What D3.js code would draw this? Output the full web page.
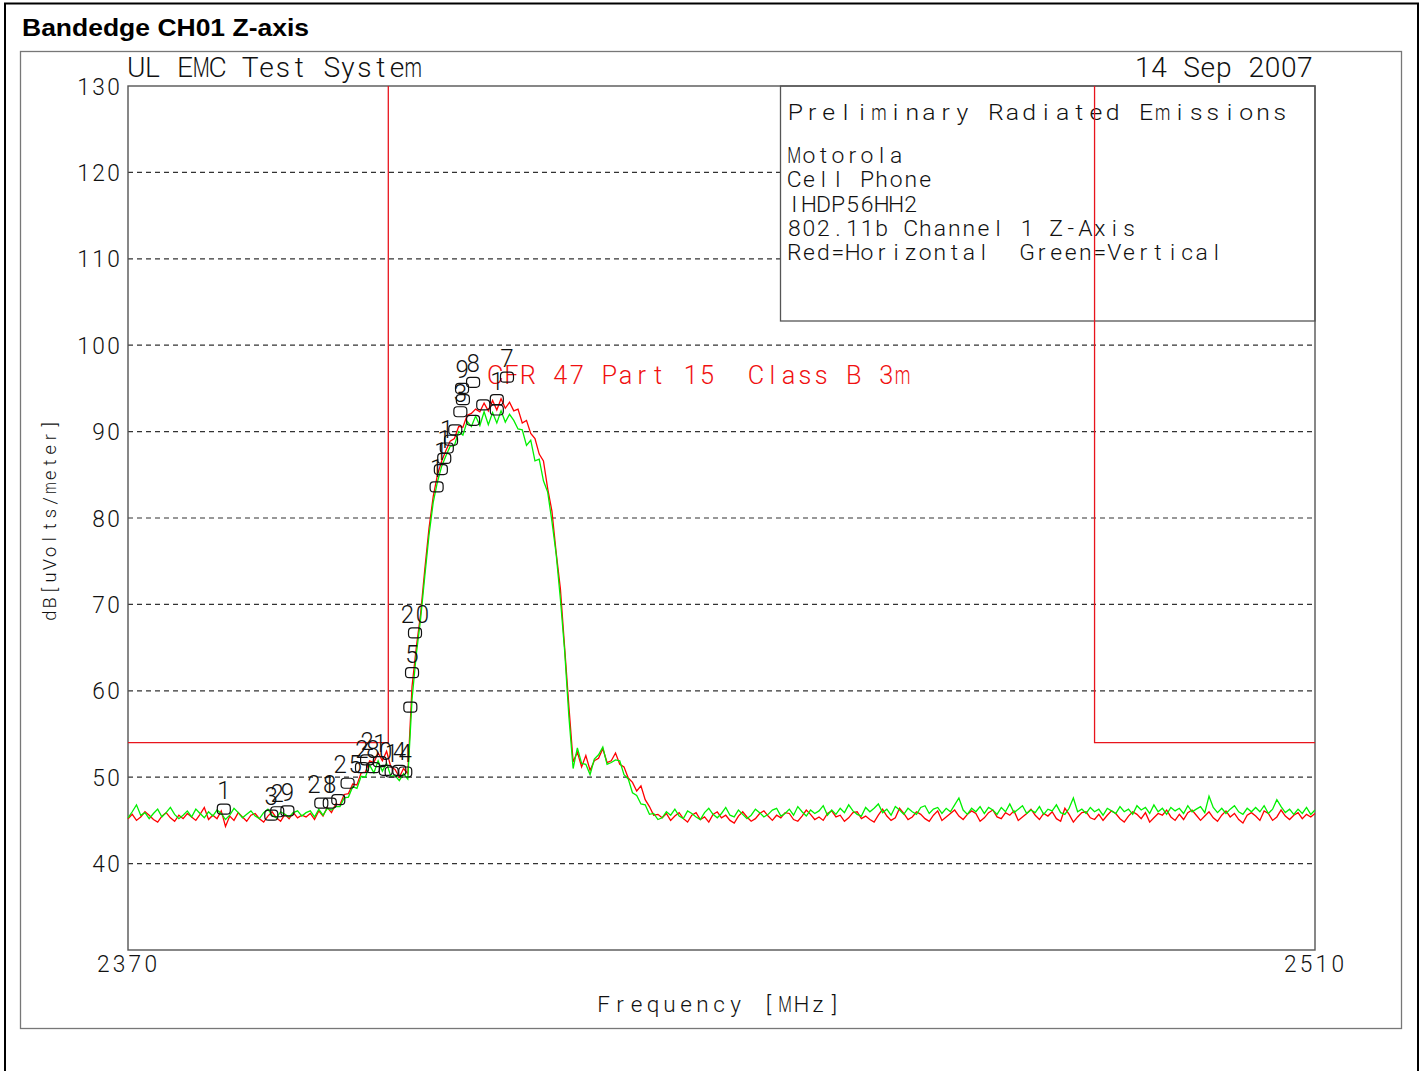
<!DOCTYPE html>
<html>
<head>
<meta charset="utf-8">
<script src="https://cdn.jsdelivr.net/npm/d3@7"></script>
<style>
  body { margin: 0; background: #fff; }
  .hp { font-family: Roboto, "DejaVu Sans", sans-serif; font-weight: 300; }
</style>
</head>
<body>
<div id="chart"></div>
<script>
// sweep: 2370 .. 2510 MHz, one reading every 0.5 MHz
var freqStart = 2370;
var freqStep = 0.5;

// Red = Horizontal (dBuV/m)
var redTrace = [
  45.2, 45.7, 45.0, 45.4, 46.0, 45.6, 45.1, 44.8, 45.5, 45.9,
  45.3, 44.9, 45.6, 45.2, 45.8, 45.4, 45.0, 45.7, 46.5, 45.1,
  45.6, 45.2, 46.1, 44.3, 45.5, 45.0, 45.9, 45.4, 44.9, 45.6,
  45.8, 45.2, 44.8, 45.5, 46.0, 45.3, 44.9, 45.7, 45.2, 45.9,
  45.3, 45.6, 45.4,
  45.8, 45.1, 46.1, 45.5, 46.5, 45.9, 46.9, 46.8, 48.0, 48.1,
  49.2, 49.1, 50.5, 50.6, 51.9, 51.7, 52.8, 51.9, 53.0, 51.2,
  50.9, 50.0, 51.0, 50.4,
  60.5, 65.0, 68.8, 74.0, 78.8, 82.5, 85.0, 86.6, 87.8, 88.9,
  89.2, 90.6, 90.5, 91.9, 92.1, 92.6, 92.3, 93.3, 92.4, 93.6,
  92.5, 93.8, 92.7, 93.4, 92.4, 92.6, 91.0, 91.3, 89.8, 89.2,
  87.4, 86.6, 83.4, 80.8, 76.0, 71.8, 65.0, 58.2, 51.8,
  52.9, 51.2, 52.5, 50.8, 51.9, 52.2, 53.3, 51.7, 51.9, 52.8,
  51.5, 51.2, 49.9, 49.4, 48.4, 49.0, 47.4, 46.6, 45.6, 45.7,
  45.3, 45.8, 45.0, 45.5, 45.9, 45.2, 44.8, 45.6, 45.9, 45.1,
  45.4, 44.8, 45.7, 46.0, 45.3, 45.6, 45.0, 44.7, 45.5, 46.0,
  45.4, 44.9, 45.2, 45.8, 46.1, 45.5, 45.0, 45.6, 45.3, 45.9,
  45.8, 45.1, 44.9, 45.5, 46.2, 45.7, 45.1, 45.4, 45.0, 45.8,
  46.1, 45.4, 45.6, 44.9, 45.3, 45.9, 46.0, 45.2, 45.5, 45.1,
  44.8, 45.6, 46.3, 45.5, 45.0, 45.3, 46.4, 45.8, 45.1, 45.4,
  46.0, 45.7, 45.2, 44.9, 45.6, 46.1, 45.0, 45.4, 45.8, 46.2,
  45.5, 45.1, 45.7, 46.1, 45.8, 44.9, 45.3, 45.9, 46.2, 45.4,
  45.2, 45.9, 45.6, 46.1, 45.0, 45.4, 45.8, 46.3, 45.6, 45.1,
  45.8, 45.5, 46.0, 45.2, 44.9, 46.4, 45.7, 44.8, 45.4, 45.9,
  46.0, 45.3, 45.1, 45.7, 45.0, 45.6, 46.1, 45.8, 45.2, 44.8,
  45.5, 46.0, 45.7, 45.2, 45.9, 44.8, 45.3, 45.8, 45.6, 46.2,
  45.4, 45.0, 45.7, 45.1, 45.9, 46.2, 45.6, 45.0, 45.5, 46.0,
  45.3, 44.9, 45.6, 46.1, 45.4, 45.8, 45.1, 44.7, 45.6, 45.9,
  45.5, 45.0, 46.1, 45.8, 45.0, 45.4, 46.2, 45.5, 45.1, 45.6,
  45.9, 45.2, 45.7, 45.4, 45.8
];

// Green = Vertical (dBuV/m)
var greenTrace = [
  45.3, 46.0, 46.8, 45.6, 45.9, 45.2, 45.8, 46.3, 45.4, 45.9,
  46.5, 45.7, 45.2, 45.6, 46.1, 45.4, 46.3, 45.8, 45.3, 46.0,
  45.5, 46.2, 45.8, 45.1, 45.6, 46.4, 45.9, 45.3, 45.7, 46.1,
  45.5, 45.2, 45.9, 46.3, 45.6, 45.3, 46.0, 45.7, 45.4, 45.9,
  46.1, 45.5, 45.9,
  46.1, 45.4, 46.3, 45.6, 46.4, 46.2, 46.6, 46.6, 47.6, 47.7,
  48.9, 48.7, 50.1, 50.0, 51.4, 50.5, 51.9, 50.7, 51.6, 50.1,
  50.2, 49.6, 50.4, 49.8,
  59.0, 64.2, 68.2, 73.2, 78.0, 81.8, 84.2, 86.0, 87.2, 88.3,
  88.4, 90.0, 89.6, 91.2, 90.6, 91.8, 90.7, 92.3, 90.8, 92.2,
  91.0, 92.4, 91.1, 92.0, 91.3, 90.3, 90.2, 88.4, 89.0, 86.6,
  86.8, 84.3, 83.0, 79.6, 75.8, 70.6, 64.6, 57.0, 51.0,
  53.4, 51.6, 51.5, 50.3, 52.1, 52.6, 53.5, 51.5, 51.7, 52.0,
  51.9, 50.3, 49.8, 48.2, 47.9, 46.9, 46.8, 45.7, 45.8, 45.1,
  45.3, 46.0, 45.6, 46.3, 45.5, 45.2, 46.1, 45.8, 45.4, 45.1,
  45.9, 46.4, 45.7, 45.3, 45.8, 46.5, 45.6, 45.4, 46.2, 45.7,
  45.2, 45.6, 46.3, 45.9, 45.4, 45.7, 46.2, 46.4, 45.5, 45.8,
  46.3, 45.6, 46.6, 46.0, 45.5, 46.2, 45.8, 46.1, 46.7, 45.6,
  46.2, 45.7, 46.4, 45.9, 46.8, 46.1, 45.7, 45.5, 46.5, 46.0,
  46.4, 46.9, 45.9, 46.3, 45.6, 46.6, 46.2, 45.7, 46.4, 46.0,
  45.7, 46.5, 46.7, 45.8, 46.3, 46.5, 45.8, 46.4, 46.0, 46.8,
  47.6, 46.2, 45.7, 46.4, 46.0, 46.6, 45.8, 46.5, 46.2, 45.7,
  46.5, 46.0, 46.9, 45.9, 46.3, 46.7, 45.8, 46.2, 45.9, 46.6,
  45.7, 46.3, 46.1, 46.8, 45.9, 45.7, 46.4, 47.6, 46.0, 46.3,
  45.8, 46.5, 46.0, 46.3, 45.6, 46.4, 46.1, 45.8, 46.6, 46.0,
  46.3, 45.7, 46.7, 46.2, 46.5, 45.8, 46.8, 46.0, 46.4, 45.7,
  46.5, 46.1, 46.4, 45.8, 46.7, 46.0, 46.3, 46.6, 45.9, 47.8,
  46.5, 45.9, 46.4, 45.8, 46.3, 46.7, 46.0, 45.7, 46.4, 46.0,
  46.5, 46.0, 46.7, 45.8, 46.3, 47.4, 46.6, 45.9, 46.3, 45.7,
  46.3, 45.8, 46.5, 45.7, 46.2
];

// CFR 47 Part 15 Class B 3m limit, two pieces
var limitLeft = [[2370, 54], [2400.7, 54], [2400.7, 130]];
var limitRight = [[2484, 130], [2484, 54], [2510, 54]];

// peak markers
var markerFreq = [2381.3, 2386.9, 2387.6, 2388.8, 2392.8, 2393.8, 2394.8, 2395.9,
  2397.6, 2398.2, 2398.9, 2399.7, 2400.4, 2401.1, 2402.0, 2402.7,
  2403.3, 2403.5, 2403.85, 2406.4, 2406.9, 2407.3, 2407.6, 2408.1, 2408.6,
  2409.2, 2409.5, 2409.4, 2410.7, 2410.7, 2411.9, 2413.5, 2413.5, 2414.7];
var markerDb = [46.3, 45.6, 46.0, 46.1, 47.0, 47.0, 47.4, 49.3,
  51.1, 52.0, 51.1, 51.8, 50.8, 50.6, 50.8, 50.6,
  58.1, 62.1, 66.7, 83.6, 85.6, 86.9, 88.1, 89.0, 90.2,
  92.3, 93.7, 95.0, 95.7, 91.3, 93.1, 93.7, 92.5, 96.3];
var markerLabel = ["1", "3", "2", "9", "21", "8", "", "25",
  "2", "2", "8", "1", "0", "1", "4", "4",
  "", "5", "20", "1", "1", "1", "1", "", "",
  "3", "", "9", "8", "", "", "1", "", "7"];

var yTicks = [40, 50, 60, 70, 80, 90, 100, 110, 120, 130];
var gridTicks = [40, 50, 60, 70, 80, 90, 100, 110, 120];
var xTicks = [2370, 2510];

var legendLines = ["Motorola", "Cell Phone", "IHDP56HH2", "802.11b Channel 1 Z-Axis", "Red=Horizontal  Green=Vertical"];

// page
var width = 1423, height = 1071;
var plot = { left: 128, right: 1315, top: 86, bottom: 950 };

var svg = d3.select("#chart").append("svg")
  .attr("width", width)
  .attr("height", height);

svg.append("rect").attr("width", width).attr("height", height).attr("fill", "#fff");

// outer black frame
svg.append("rect")
  .attr("x", 5).attr("y", 3.5).attr("width", 1413).attr("height", 1090)
  .attr("fill", "none").attr("stroke", "#000").attr("stroke-width", 2);

svg.append("text")
  .attr("x", 22).attr("y", 36)
  .attr("font-family", "'Liberation Sans', Arial, sans-serif")
  .attr("font-weight", "bold")
  .attr("font-size", 24.5)
  .attr("textLength", 287)
  .attr("lengthAdjust", "spacingAndGlyphs")
  .text("Bandedge CH01 Z-axis");

// inner grey frame
svg.append("rect")
  .attr("x", 20.5).attr("y", 51.5).attr("width", 1381).attr("height", 977)
  .attr("fill", "none").attr("stroke", "#777").attr("stroke-width", 1.3);

var x = d3.scaleLinear().domain([2370, 2510]).range([plot.left, plot.right]);
var y = d3.scaleLinear().domain([30, 130]).range([plot.bottom, plot.top]);

// plotter-style text: every character sits in a fixed cell
function hpText(g, str, o) {
  var n = str.length, w = n * o.cell;
  var x0 = o.anchor === "end" ? o.x - w : (o.anchor === "middle" ? o.x - w / 2 : o.x);
  var sx = o.sx || 1;
  var t = g.append("g")
    .attr("class", "hp")
    .attr("font-size", o.cap / 0.711)
    .attr("fill", o.fill || "#111");
  str.split("").forEach(function(c, i) {
    if (c === " ") return;
    var k = /[MWmw]/.test(c) ? sx * 0.7 : sx;
    t.append("text")
      .attr("transform", `translate(${(x0 + o.cell * (i + 0.5)).toFixed(2)},${o.y}) scale(${k},1)`)
      .attr("text-anchor", "middle")
      .text(c);
  });
  return t;
}

// dashed grid
svg.append("g")
  .selectAll("line")
  .data(gridTicks)
  .enter()
  .append("line")
  .attr("x1", plot.left).attr("x2", plot.right)
  .attr("y1", d => y(d)).attr("y2", d => y(d))
  .attr("stroke", "#333")
  .attr("stroke-width", 1.2)
  .attr("stroke-dasharray", "5,4");

// legend box
svg.append("rect")
  .attr("x", 780.5).attr("y", plot.top).attr("width", plot.right - 780.5).attr("height", 235)
  .attr("fill", "#fff").attr("stroke", "#555").attr("stroke-width", 1.3);

hpText(svg, "Preliminary Radiated Emissions", { x: 787, y: 120, cap: 16, cell: 16.7, sx: 1.1 });
legendLines.forEach(function(t, i) {
  hpText(svg, t, { x: 787, y: 163 + i * 24.3, cap: 15.5, cell: 14.55, sx: 1.05 });
});

// plot frame
svg.append("rect")
  .attr("x", plot.left).attr("y", plot.top)
  .attr("width", plot.right - plot.left).attr("height", plot.bottom - plot.top)
  .attr("fill", "none").attr("stroke", "#555").attr("stroke-width", 1.4);

// limit
var line = d3.line().x(d => x(d[0])).y(d => y(d[1]));
[limitLeft, limitRight].forEach(function(seg) {
  svg.append("path")
    .attr("d", line(seg))
    .attr("fill", "none")
    .attr("stroke", "#e8141c")
    .attr("stroke-width", 1.3);
});

hpText(svg, "CFR 47 Part 15  Class B 3m", { x: 487, y: 384, cap: 18, cell: 16.3, fill: "#f01010" });

// traces
var traceLine = d3.line()
  .x((d, i) => x(freqStart + i * freqStep))
  .y(d => y(d));

svg.append("path")
  .attr("d", traceLine(redTrace))
  .attr("fill", "none")
  .attr("stroke", "#ff0000")
  .attr("stroke-width", 1.3);

svg.append("path")
  .attr("d", traceLine(greenTrace))
  .attr("fill", "none")
  .attr("stroke", "#00f000")
  .attr("stroke-width", 1.3);

// markers
var markers = markerFreq.map((f, i) => ({ f: f, db: markerDb[i], label: markerLabel[i] }));
var mg = svg.append("g");
mg.selectAll("rect")
  .data(markers)
  .enter()
  .append("rect")
  .attr("x", d => x(d.f) - 6.5)
  .attr("y", d => y(d.db) - 5)
  .attr("width", 13).attr("height", 10)
  .attr("rx", 3.5)
  .attr("fill", "none")
  .attr("stroke", "#111")
  .attr("stroke-width", 1.2);
markers.forEach(function(d) {
  if (d.label) hpText(mg, d.label, { x: x(d.f), y: y(d.db) - 10, cap: 18, cell: 15, anchor: "middle", sx: 0.95 });
});

// axis labels
yTicks.forEach(function(t) {
  hpText(svg, String(t), { x: 121, y: y(t) + 8.5, cap: 17, cell: 15, anchor: "end", sx: 0.95 });
});
xTicks.forEach(function(t) {
  hpText(svg, String(t), { x: x(t) - 1, y: 972, cap: 17, cell: 15.8, anchor: "middle", sx: 0.95 });
});

hpText(svg, "UL EMC Test System", { x: 128, y: 77, cap: 20, cell: 16.3, sx: 1.0 });
hpText(svg, "14 Sep 2007", { x: 1313, y: 77, cap: 20, cell: 16.2, anchor: "end", sx: 1.0 });
hpText(svg, "Frequency [MHz]", { x: 719, y: 1012, cap: 16, cell: 16.5, anchor: "middle", sx: 1.0 });

var yl = svg.append("g").attr("transform", "translate(56,520) rotate(-90)");
hpText(yl, "dB[uVolts/meter]", { x: 0, y: 0, cap: 13, cell: 12.75, anchor: "middle", sx: 1.0 });
</script>
</body>
</html>
